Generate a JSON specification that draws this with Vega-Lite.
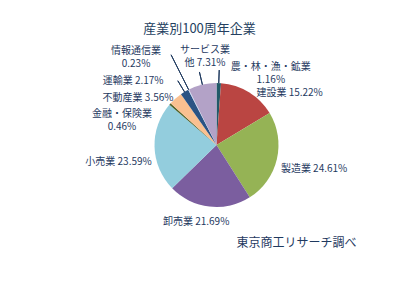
{
  "$schema": "https://vega.github.io/schema/vega-lite/v6.json",
  "autosize": {"type": "none"},
  "padding": {"left": 32, "top": 30, "right": 0, "bottom": 0},
  "width": 369,
  "height": 230,
  "background": "white",
  "config": {"view": {"stroke": null}},
  "title": {"text": "産業別100周年企業", "font": "Noto Sans CJK JP", "fontSize": 13, "fontWeight": "normal", "color": "#243F60", "dx": -17, "offset": -6, "anchor": "middle"},
  "data": {"values": [
    {"category": "農・林・漁・鉱業", "value": 1.16, "label": "農・林・漁・鉱業\n1.16%", "idx": 1},
    {"category": "建設業", "value": 15.22, "label": "建設業 15.22%", "idx": 2},
    {"category": "製造業", "value": 24.61, "label": "製造業 24.61%", "idx": 3},
    {"category": "卸売業", "value": 21.69, "label": "卸売業 21.69%", "idx": 4},
    {"category": "小売業", "value": 23.59, "label": "小売業 23.59%", "idx": 5},
    {"category": "金融・保険業", "value": 0.46, "label": "金融・保険業\n0.46%", "idx": 6},
    {"category": "不動産業", "value": 3.56, "label": "不動産業 3.56%", "idx": 7},
    {"category": "運輸業", "value": 2.17, "label": "運輸業 2.17%", "idx": 8},
    {"category": "情報通信業", "value": 0.23, "label": "情報通信業\n0.23%", "idx": 9},
    {"category": "サービス業他", "value": 7.31, "label": "サービス業\n他 7.31%", "idx": 10}
  ]},
  "layer": [
    {
      "mark": {"type": "arc", "radius": 62},
      "encoding": {
        "theta": {"field": "value", "type": "quantitative", "stack": true},
        "order": {"field": "idx", "type": "quantitative"},
        "color": {"field": "category", "type": "nominal", "legend": null, "sort": null,
          "scale": {"domain": ["農・林・漁・鉱業", "建設業", "製造業", "卸売業", "小売業", "金融・保険業", "不動産業", "運輸業", "情報通信業", "サービス業他"],
                    "range": ["#215968", "#BA4542", "#95B355", "#7B5E9F", "#93CDDD", "#4F6228", "#FAC090", "#2A5384", "#C6D9F1", "#B3A2C7"]}}
      }
    },
    {
      "mark": {"type": "arc", "radius": 75, "radius2": 62, "padAngle": 3.1, "fillOpacity": 0, "strokeWidth": 1},
      "encoding": {
        "theta": {"field": "value", "type": "quantitative", "stack": true},
        "order": {"field": "idx", "type": "quantitative"},
        "stroke": {"condition": {"test": "indexof(['農・林・漁・鉱業','運輸業','サービス業他'], datum.category) >= 0", "value": "#1F3A5F"}, "value": "transparent"}
      }
    },
    {
      "mark": {"type": "arc", "radius": 101, "radius2": 62, "padAngle": 3.1, "fillOpacity": 0, "strokeWidth": 1},
      "encoding": {
        "theta": {"field": "value", "type": "quantitative", "stack": true},
        "order": {"field": "idx", "type": "quantitative"},
        "stroke": {"condition": {"test": "datum.category === '情報通信業'", "value": "#1F3A5F"}, "value": "transparent"}
      }
    },
    {
      "mark": {"type": "text", "radius": 90, "dx": 51, "dy": 12, "font": "Noto Sans CJK JP", "fontSize": 10, "fill": "#1F3A5F", "lineBreak": "\n", "lineHeight": 13, "align": "center", "baseline": "middle"},
      "encoding": {
        "theta": {"field": "value", "type": "quantitative", "stack": true},
        "order": {"field": "idx", "type": "quantitative"},
        "text": {"condition": {"test": "datum.category === '農・林・漁・鉱業'", "field": "label", "type": "nominal"}, "value": ""}
      }
    },
    {
      "mark": {"type": "text", "radius": 90, "dx": 26, "dy": 25, "font": "Noto Sans CJK JP", "fontSize": 10, "fill": "#1F3A5F", "lineBreak": "\n", "lineHeight": 13, "align": "center", "baseline": "middle"},
      "encoding": {
        "theta": {"field": "value", "type": "quantitative", "stack": true},
        "order": {"field": "idx", "type": "quantitative"},
        "text": {"condition": {"test": "datum.category === '建設業'", "field": "label", "type": "nominal"}, "value": ""}
      }
    },
    {
      "mark": {"type": "text", "radius": 90, "dx": 10, "dy": 3, "font": "Noto Sans CJK JP", "fontSize": 10, "fill": "#1F3A5F", "lineBreak": "\n", "lineHeight": 13, "align": "center", "baseline": "middle"},
      "encoding": {
        "theta": {"field": "value", "type": "quantitative", "stack": true},
        "order": {"field": "idx", "type": "quantitative"},
        "text": {"condition": {"test": "datum.category === '製造業'", "field": "label", "type": "nominal"}, "value": ""}
      }
    },
    {
      "mark": {"type": "text", "radius": 90, "dx": -10, "dy": -12, "font": "Noto Sans CJK JP", "fontSize": 10, "fill": "#1F3A5F", "lineBreak": "\n", "lineHeight": 13, "align": "center", "baseline": "middle"},
      "encoding": {
        "theta": {"field": "value", "type": "quantitative", "stack": true},
        "order": {"field": "idx", "type": "quantitative"},
        "text": {"condition": {"test": "datum.category === '卸売業'", "field": "label", "type": "nominal"}, "value": ""}
      }
    },
    {
      "mark": {"type": "text", "radius": 90, "dx": -8, "dy": 14, "font": "Noto Sans CJK JP", "fontSize": 10, "fill": "#1F3A5F", "lineBreak": "\n", "lineHeight": 13, "align": "center", "baseline": "middle"},
      "encoding": {
        "theta": {"field": "value", "type": "quantitative", "stack": true},
        "order": {"field": "idx", "type": "quantitative"},
        "text": {"condition": {"test": "datum.category === '小売業'", "field": "label", "type": "nominal"}, "value": ""}
      }
    },
    {
      "mark": {"type": "text", "radius": 90, "dx": -27, "dy": 29, "font": "Noto Sans CJK JP", "fontSize": 10, "fill": "#1F3A5F", "lineBreak": "\n", "lineHeight": 13, "align": "center", "baseline": "middle"},
      "encoding": {
        "theta": {"field": "value", "type": "quantitative", "stack": true},
        "order": {"field": "idx", "type": "quantitative"},
        "text": {"condition": {"test": "datum.category === '金融・保険業'", "field": "label", "type": "nominal"}, "value": ""}
      }
    },
    {
      "mark": {"type": "text", "radius": 90, "dx": -19, "dy": 21, "font": "Noto Sans CJK JP", "fontSize": 10, "fill": "#1F3A5F", "lineBreak": "\n", "lineHeight": 13, "align": "center", "baseline": "middle"},
      "encoding": {
        "theta": {"field": "value", "type": "quantitative", "stack": true},
        "order": {"field": "idx", "type": "quantitative"},
        "text": {"condition": {"test": "datum.category === '不動産業'", "field": "label", "type": "nominal"}, "value": ""}
      }
    },
    {
      "mark": {"type": "text", "radius": 90, "dx": -37, "dy": 13, "font": "Noto Sans CJK JP", "fontSize": 10, "fill": "#1F3A5F", "lineBreak": "\n", "lineHeight": 13, "align": "center", "baseline": "middle"},
      "encoding": {
        "theta": {"field": "value", "type": "quantitative", "stack": true},
        "order": {"field": "idx", "type": "quantitative"},
        "text": {"condition": {"test": "datum.category === '運輸業'", "field": "label", "type": "nominal"}, "value": ""}
      }
    },
    {
      "mark": {"type": "text", "radius": 90, "dx": -40, "dy": -14, "font": "Noto Sans CJK JP", "fontSize": 10, "fill": "#1F3A5F", "lineBreak": "\n", "lineHeight": 13, "align": "center", "baseline": "middle"},
      "encoding": {
        "theta": {"field": "value", "type": "quantitative", "stack": true},
        "order": {"field": "idx", "type": "quantitative"},
        "text": {"condition": {"test": "datum.category === '情報通信業'", "field": "label", "type": "nominal"}, "value": ""}
      }
    },
    {
      "mark": {"type": "text", "radius": 90, "dx": 9, "dy": -7, "font": "Noto Sans CJK JP", "fontSize": 10, "fill": "#1F3A5F", "lineBreak": "\n", "lineHeight": 13, "align": "center", "baseline": "middle"},
      "encoding": {
        "theta": {"field": "value", "type": "quantitative", "stack": true},
        "order": {"field": "idx", "type": "quantitative"},
        "text": {"condition": {"test": "datum.category === 'サービス業他'", "field": "label", "type": "nominal"}, "value": ""}
      }
    },
    {
      "data": {"values": [{"note": "東京商工リサーチ調べ"}]},
      "mark": {"type": "text", "radius": 126.5, "font": "Noto Sans CJK JP", "fontSize": 12, "fill": "#1F3A5F", "align": "center", "baseline": "middle"},
      "encoding": {
        "theta": {"datum": 39.1, "type": "quantitative"},
        "text": {"field": "note", "type": "nominal"}
      }
    }
  ]
}
